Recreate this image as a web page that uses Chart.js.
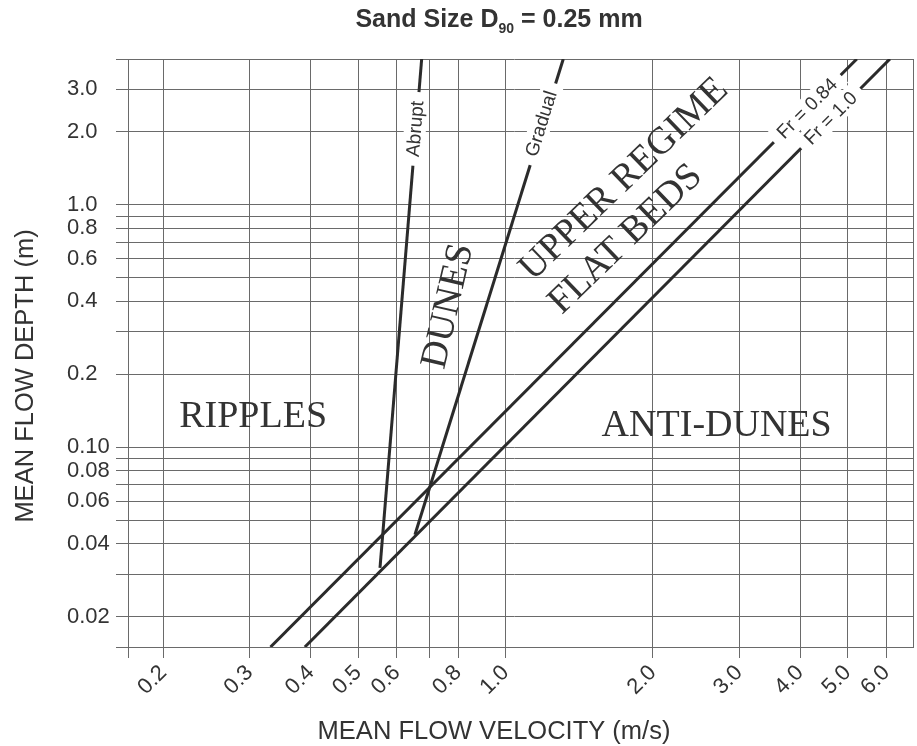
<!DOCTYPE html>
<html>
<head>
<meta charset="utf-8">
<title>Bedform regimes, sand D90 = 0.25 mm</title>
<script src="https://cdn.jsdelivr.net/npm/chart.js@4.4.1/dist/chart.umd.min.js"></script>
<style>
  html, body { margin: 0; padding: 0; background: #fff; }
  .chart { position: relative; width: 917px; height: 746px; }
</style>
</head>
<body>
<div class="chart"><canvas id="bedform-chart"></canvas></div>
<script>
/* Axis ticks: velocity (m/s) and depth (m) */
const velocityTicks = [0.17, 0.2, 0.3, 0.4, 0.5, 0.6, 0.7, 0.8, 1.0, 2.0, 3.0, 4.0, 5.0, 6.0, 6.8];
const velocityLabels = ["", "0.2", "0.3", "0.4", "0.5", "0.6", "", "0.8", "1.0", "2.0", "3.0", "4.0", "5.0", "6.0", ""];
const depthTicks = [0.015, 0.02, 0.03, 0.04, 0.05, 0.06, 0.07, 0.08, 0.09, 0.1, 0.2, 0.3, 0.4, 0.5, 0.6, 0.7, 0.8, 0.9, 1.0, 2.0, 3.0, 4.0];
const depthLabels = ["", "0.02", "", "0.04", "", "0.06", "", "0.08", "", "0.10", "0.2", "", "0.4", "", "0.6", "", "0.8", "", "1.0", "2.0", "3.0", ""];

/* Boundary lines, [velocity, depth] */
const froude084 = [[0.331, 0.015], [5.22, 4.0]];
const froude100 = [[0.389, 0.015], [6.10, 4.0]];
const abruptLine = [[0.554, 0.0318], [0.674, 4.0]];
const gradualLine = [[0.653, 0.0436], [1.312, 4.0]];

/* Labels placed in data units */
const lineLabels = [
  { text: "Abrupt", at: [0.653, 2.06], angle: -85.3 },
  { text: "Gradual", at: [1.181, 2.163], angle: -72.7 },
  { text: "Fr = 0.84", at: [4.128, 2.505], angle: -45 },
  { text: "Fr = 1.0", at: [4.61, 2.283], angle: -45 },
];
const regionLabels = [
  { text: "RIPPLES", at: [0.305, 0.1363], angle: 0 },
  { text: "ANTI-DUNES", at: [2.70, 0.1252], angle: 0 },
  { text: "DUNES", at: [0.756, 0.384], angle: -77 },
  { text: "UPPER REGIME", at: [1.733, 1.295], angle: -44 },
  { text: "FLAT BEDS", at: [1.746, 0.733], angle: -44 },
];

const INK = "#333333";
const LINE = "#2b2b2b";
const GRID = "#6a6a6a";
const SANS = "'Liberation Sans', Arial, sans-serif";
const SERIF = "'Liberation Serif', 'Times New Roman', serif";

const toPoints = (pairs) => pairs.map(([x, y]) => ({ x, y }));

const boundary = (label, pairs) => ({
  label,
  data: toPoints(pairs),
  borderColor: LINE,
  borderWidth: 3,
  pointRadius: 0,
  fill: false,
  tension: 0,
});

/* Region and line labels */
const annotate = {
  id: "annotate",
  afterDatasetsDraw(chart) {
    const { ctx, scales: { x, y } } = chart;
    const deg = Math.PI / 180;

    lineLabels.forEach((l) => {
      ctx.save();
      ctx.translate(x.getPixelForValue(l.at[0]), y.getPixelForValue(l.at[1]));
      ctx.rotate(l.angle * deg);
      ctx.font = `19px ${SANS}`;
      const w = ctx.measureText(l.text).width;
      ctx.fillStyle = "#ffffff";
      ctx.fillRect(-w / 2 - 9, -11, w + 18, 22);
      ctx.fillStyle = INK;
      ctx.textAlign = "center";
      ctx.textBaseline = "middle";
      ctx.fillText(l.text, 0, 1);
      ctx.restore();
    });

    regionLabels.forEach((l) => {
      ctx.save();
      ctx.translate(x.getPixelForValue(l.at[0]), y.getPixelForValue(l.at[1]));
      ctx.rotate(l.angle * deg);
      ctx.font = `38px ${SERIF}`;
      ctx.fillStyle = INK;
      ctx.textAlign = "center";
      ctx.textBaseline = "alphabetic";
      ctx.fillText(l.text, 0, 12.5);
      ctx.restore();
    });
  },
};

/* Title with subscript and the two axis titles */
const titles = {
  id: "titles",
  afterDraw(chart) {
    const { ctx } = chart;
    ctx.save();
    ctx.fillStyle = INK;
    ctx.textBaseline = "alphabetic";

    const big = `bold 25px ${SANS}`;
    const small = `bold 14px ${SANS}`;
    const parts = [["Sand Size D", big, 0], ["90", small, 6], [" = 0.25 mm", big, 0]];
    let total = 0;
    parts.forEach(([t, f]) => { ctx.font = f; total += ctx.measureText(t).width; });
    let cx = 499 - total / 2;
    ctx.textAlign = "left";
    parts.forEach(([t, f, dy]) => {
      ctx.font = f;
      ctx.fillText(t, cx, 27 + dy);
      cx += ctx.measureText(t).width;
    });

    ctx.font = `25.5px ${SANS}`;
    ctx.textAlign = "center";
    ctx.fillText("MEAN FLOW VELOCITY (m/s)", 494, 739);

    ctx.translate(33, 376);
    ctx.rotate(-Math.PI / 2);
    ctx.fillText("MEAN FLOW DEPTH (m)", 0, 0);
    ctx.restore();
  },
};

const ctx = document.getElementById("bedform-chart");
new Chart(ctx, {
  type: "line",
  data: {
    datasets: [
      boundary("Fr = 0.84", froude084),
      boundary("Fr = 1.0", froude100),
      boundary("Abrupt", abruptLine),
      boundary("Gradual", gradualLine),
    ],
  },
  plugins: [annotate, titles],
  options: {
    responsive: true,
    maintainAspectRatio: false,
    animation: false,
    layout: { padding: { left: 67, top: 59, right: 4, bottom: 0 } },
    plugins: {
      legend: { display: false },
      title: { display: false },
      tooltip: { enabled: false },
    },
    scales: {
      x: {
        type: "logarithmic",
        min: 0.16,
        max: 6.8,
        afterBuildTicks: (axis) => { axis.ticks = velocityTicks.map((v) => ({ value: v })); },
        afterFit: (axis) => { axis.height = 99; axis.paddingLeft = 0; axis.paddingRight = 0; },
        grid: {
          color: GRID,
          lineWidth: 1,
          tickLength: 11,
          tickColor: (c) => (c.index === velocityTicks.length - 1 ? "rgba(0,0,0,0)" : GRID),
        },
        border: { display: true, color: GRID, width: 1 },
        ticks: {
          autoSkip: false,
          minRotation: 45,
          maxRotation: 45,
          padding: 2,
          color: INK,
          font: { family: SANS, size: 22 },
          callback: (v, i) => velocityLabels[i],
        },
      },
      y: {
        type: "logarithmic",
        min: 0.015,
        max: 4.0,
        afterBuildTicks: (axis) => { axis.ticks = depthTicks.map((v) => ({ value: v })); },
        afterFit: (axis) => { axis.width = 49; axis.paddingTop = 0; axis.paddingBottom = 0; },
        grid: { color: GRID, lineWidth: 1, drawTicks: false },
        border: { display: false },
        ticks: {
          autoSkip: false,
          crossAlign: "far",
          color: INK,
          font: { family: SANS, size: 22 },
          callback: (v, i) => depthLabels[i],
        },
      },
    },
  },
});
</script>
</body>
</html>
